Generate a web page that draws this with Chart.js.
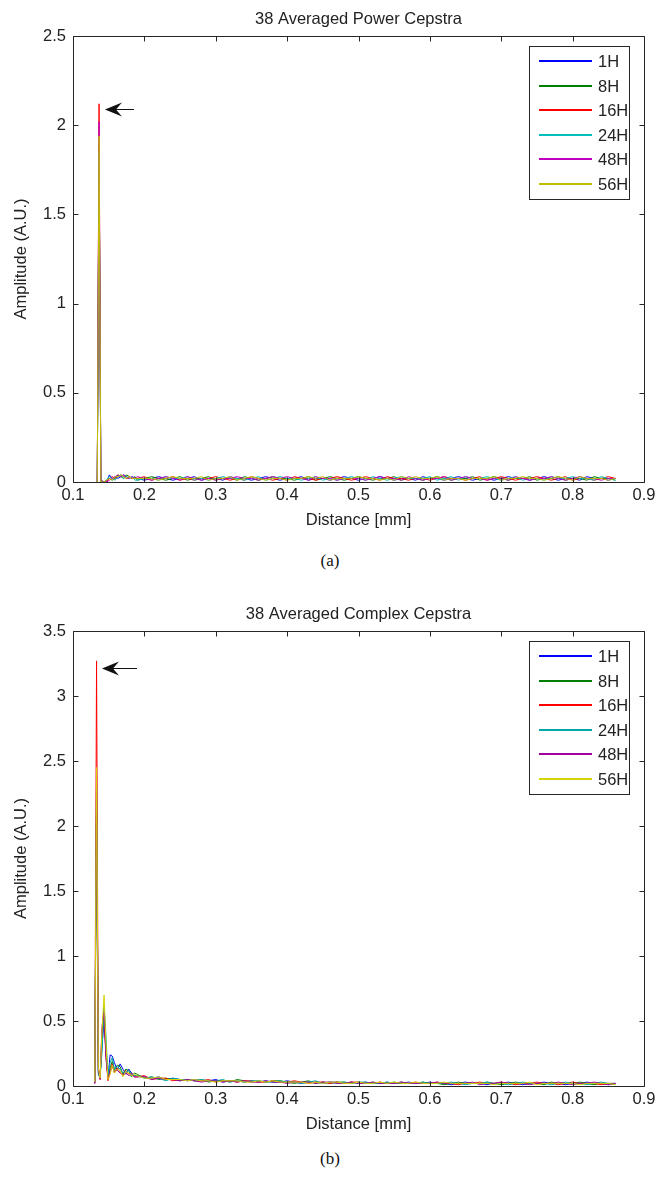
<!DOCTYPE html>
<html>
<head>
<meta charset="utf-8">
<script src="https://cdn.jsdelivr.net/npm/chart.js@4.4.1/dist/chart.umd.min.js"></script>
<style>
  body { margin: 0; background: #fff; width: 670px; height: 1180px; position: relative; overflow: hidden; }
  .box { position: absolute; left: 0; width: 670px; }
  .cap { position: absolute; left: -5px; width: 670px; text-align: center; font-family: "Liberation Serif", serif; font-size: 17px; color: #111; }
</style>
</head>
<body>
<div class="box" style="top:0;height:540px"><canvas id="ch1"></canvas></div>
<div class="cap" style="top:551px">(a)</div>
<div class="box" style="top:595px;height:549px"><canvas id="ch2"></canvas></div>
<div class="cap" style="top:1149px">(b)</div>
<script>
const FONT = '"Liberation Sans", Arial, sans-serif';
const FSIZE = 16.5;

const names = ["1H", "8H", "16H", "24H", "48H", "56H"];
const colorsTop = ["#0000ff", "#008000", "#ff0000", "#00bfbf", "#bf00bf", "#bfbf00"];
const colorsBottom = ["#0000ff", "#008000", "#ff0000", "#00a8a8", "#a000a0", "#d4d400"];

// shared tail of the distance axis [mm]
const tailX = [
  0.19,0.20,0.21,0.22,0.23,0.24,0.25,0.26,0.27,0.28,
  0.29,0.30,0.31,0.32,0.33,0.34,0.35,0.36,0.37,0.38,
  0.39,0.40,0.41,0.42,0.43,0.44,0.45,0.46,0.47,0.48,
  0.49,0.50,0.51,0.52,0.53,0.54,0.55,0.56,0.57,0.58,
  0.59,0.60,0.61,0.62,0.63,0.64,0.65,0.66,0.67,0.68,
  0.69,0.70,0.71,0.72,0.73,0.74,0.75,0.76,0.77,0.78,
  0.79,0.80,0.81,0.82,0.83,0.84,0.85,0.86
];

// (a) power cepstra
const powerX = [0.134,0.1365,0.139,0.143,0.147,0.151,0.155,0.159,0.163,0.167,0.171,0.175,0.179,0.183,0.187, ...tailX];

const power1H = [0.00,1.90,0.01,0.00,0.00,0.04,0.02,0.03,0.02,0.03,0.04,0.03,0.02,0.03,0.02,
  0.02,0.01,0.02,0.03,0.02,0.01,0.02,0.02,0.03,0.01,
  0.02,0.02,0.01,0.03,0.02,0.02,0.01,0.02,0.03,0.02,
  0.01,0.02,0.02,0.03,0.01,0.02,0.02,0.01,0.02,0.03,
  0.02,0.01,0.02,0.02,0.03,0.02,0.01,0.02,0.02,0.01,
  0.03,0.02,0.02,0.01,0.02,0.03,0.02,0.01,0.02,0.02,
  0.01,0.02,0.03,0.02,0.02,0.01,0.02,0.03,0.02,0.01,
  0.02,0.02,0.01,0.03,0.02,0.02,0.01,0.02];
const power8H = [0.00,1.88,0.00,0.00,0.01,0.02,0.01,0.02,0.04,0.03,0.02,0.04,0.03,0.02,0.03,
  0.01,0.02,0.03,0.02,0.01,0.02,0.03,0.01,0.02,0.02,
  0.03,0.01,0.02,0.02,0.01,0.03,0.02,0.01,0.02,0.03,
  0.02,0.02,0.01,0.02,0.03,0.01,0.02,0.03,0.02,0.01,
  0.02,0.03,0.02,0.01,0.02,0.02,0.03,0.01,0.02,0.02,
  0.01,0.02,0.03,0.02,0.01,0.02,0.02,0.03,0.01,0.02,
  0.03,0.02,0.01,0.02,0.02,0.03,0.01,0.02,0.02,0.03,
  0.01,0.02,0.02,0.01,0.03,0.02,0.02,0.01];
const power16H = [0.00,2.12,0.01,0.00,0.00,0.02,0.03,0.02,0.03,0.04,0.03,0.02,0.03,0.02,0.02,
  0.02,0.03,0.01,0.02,0.02,0.03,0.01,0.02,0.01,0.02,
  0.02,0.03,0.02,0.01,0.02,0.01,0.03,0.02,0.02,0.01,
  0.02,0.01,0.03,0.02,0.02,0.01,0.02,0.02,0.03,0.02,
  0.01,0.02,0.03,0.02,0.01,0.03,0.02,0.02,0.01,0.02,
  0.02,0.01,0.02,0.03,0.02,0.02,0.01,0.02,0.03,0.01,
  0.02,0.03,0.02,0.01,0.02,0.02,0.03,0.02,0.01,0.02,
  0.03,0.01,0.02,0.02,0.01,0.02,0.03,0.02];
const power24H = [0.00,1.85,0.00,0.00,0.01,0.03,0.02,0.01,0.03,0.04,0.02,0.03,0.02,0.03,0.01,
  0.01,0.02,0.02,0.01,0.03,0.02,0.02,0.03,0.01,0.02,
  0.01,0.02,0.03,0.02,0.02,0.01,0.02,0.03,0.01,0.02,
  0.03,0.02,0.02,0.01,0.02,0.03,0.01,0.02,0.01,0.02,
  0.03,0.02,0.01,0.03,0.02,0.01,0.02,0.03,0.02,0.02,
  0.02,0.03,0.01,0.02,0.03,0.01,0.03,0.02,0.02,0.03,
  0.02,0.01,0.02,0.03,0.01,0.02,0.02,0.01,0.03,0.02,
  0.02,0.03,0.02,0.02,0.01,0.03,0.02,0.01];
const power48H = [0.00,2.02,0.01,0.00,0.00,0.01,0.02,0.03,0.04,0.03,0.04,0.02,0.02,0.03,0.02,
  0.03,0.02,0.01,0.02,0.03,0.02,0.01,0.03,0.02,0.01,
  0.02,0.01,0.02,0.02,0.03,0.02,0.02,0.01,0.02,0.03,
  0.02,0.03,0.02,0.02,0.01,0.03,0.02,0.02,0.01,0.02,
  0.02,0.02,0.01,0.02,0.03,0.02,0.02,0.01,0.03,0.02,
  0.01,0.02,0.02,0.03,0.01,0.02,0.03,0.02,0.02,0.01,
  0.02,0.02,0.01,0.03,0.02,0.01,0.02,0.02,0.03,0.02,
  0.01,0.02,0.03,0.02,0.02,0.01,0.02,0.02];
const power56H = [0.00,1.94,0.00,0.00,0.01,0.02,0.01,0.03,0.03,0.04,0.03,0.02,0.03,0.02,0.02,
  0.02,0.02,0.02,0.01,0.02,0.03,0.02,0.02,0.02,0.03,
  0.01,0.02,0.02,0.03,0.01,0.02,0.03,0.02,0.01,0.02,
  0.02,0.01,0.02,0.02,0.03,0.02,0.03,0.01,0.02,0.02,
  0.02,0.03,0.02,0.02,0.01,0.02,0.01,0.03,0.02,0.03,
  0.02,0.02,0.03,0.01,0.02,0.02,0.01,0.02,0.02,0.02,
  0.03,0.01,0.02,0.02,0.03,0.02,0.02,0.01,0.02,0.03,
  0.02,0.01,0.03,0.02,0.02,0.02,0.01,0.02];

// (b) complex cepstra
const complexX = [0.1305,0.133,0.1355,0.138,0.1405,0.1435,0.146,0.149,0.152,0.155,0.158,0.162,0.166,0.170,0.174,0.178,0.182,0.186, ...tailX];

const complex1H = [0.02,2.40,0.10,0.08,0.30,0.50,0.28,0.06,0.24,0.23,0.18,0.12,0.17,0.13,0.09,0.13,0.10,0.08,
  0.08,0.07,0.06,0.07,0.05,0.06,0.05,0.04,0.05,0.04,
  0.04,0.05,0.03,0.04,0.04,0.03,0.04,0.03,0.04,0.03,
  0.03,0.04,0.03,0.02,0.03,0.03,0.02,0.03,0.03,0.02,
  0.03,0.02,0.03,0.02,0.02,0.03,0.02,0.02,0.03,0.02,
  0.02,0.03,0.02,0.02,0.01,0.02,0.03,0.02,0.02,0.01,
  0.02,0.02,0.03,0.02,0.01,0.02,0.02,0.03,0.02,0.02,
  0.01,0.02,0.02,0.03,0.02,0.02,0.01,0.02];
const complex8H = [0.03,2.20,0.12,0.06,0.35,0.55,0.30,0.05,0.14,0.19,0.12,0.16,0.15,0.09,0.13,0.12,0.07,0.10,
  0.09,0.06,0.07,0.05,0.06,0.05,0.04,0.05,0.04,0.05,
  0.03,0.04,0.04,0.03,0.05,0.04,0.03,0.04,0.03,0.04,
  0.04,0.03,0.02,0.03,0.04,0.02,0.03,0.02,0.03,0.03,
  0.02,0.03,0.02,0.03,0.02,0.02,0.03,0.02,0.02,0.02,
  0.03,0.02,0.02,0.01,0.02,0.03,0.02,0.02,0.02,0.03,
  0.02,0.01,0.02,0.03,0.02,0.02,0.02,0.01,0.03,0.02,
  0.02,0.02,0.03,0.02,0.01,0.02,0.02,0.01];
const complex16H = [0.02,3.27,0.15,0.05,0.40,0.60,0.25,0.04,0.10,0.17,0.10,0.14,0.11,0.08,0.12,0.09,0.10,0.07,
  0.07,0.08,0.05,0.06,0.06,0.04,0.05,0.05,0.04,0.04,
  0.05,0.03,0.04,0.04,0.03,0.04,0.04,0.03,0.03,0.04,
  0.03,0.03,0.04,0.03,0.02,0.03,0.03,0.02,0.03,0.02,
  0.03,0.03,0.02,0.02,0.03,0.02,0.02,0.03,0.02,0.03,
  0.02,0.02,0.03,0.02,0.02,0.01,0.02,0.02,0.03,0.02,
  0.02,0.03,0.02,0.01,0.02,0.02,0.03,0.02,0.02,0.01,
  0.02,0.03,0.02,0.02,0.02,0.01,0.02,0.02];
const complex24H = [0.03,2.30,0.08,0.07,0.25,0.63,0.40,0.08,0.18,0.22,0.13,0.15,0.13,0.10,0.11,0.12,0.09,0.08,
  0.08,0.06,0.07,0.06,0.04,0.06,0.05,0.05,0.04,0.05,
  0.04,0.04,0.05,0.03,0.04,0.03,0.04,0.04,0.03,0.03,
  0.04,0.03,0.03,0.02,0.03,0.04,0.02,0.03,0.02,0.03,
  0.02,0.03,0.03,0.02,0.02,0.03,0.02,0.03,0.02,0.02,
  0.03,0.02,0.02,0.02,0.03,0.02,0.01,0.02,0.02,0.03,
  0.02,0.02,0.01,0.02,0.03,0.02,0.02,0.02,0.01,0.02,
  0.03,0.02,0.02,0.01,0.02,0.03,0.02,0.02];
const complex48H = [0.02,2.10,0.12,0.05,0.45,0.57,0.22,0.06,0.12,0.15,0.11,0.12,0.10,0.09,0.10,0.08,0.09,0.07,
  0.07,0.07,0.05,0.06,0.05,0.05,0.04,0.05,0.04,0.03,
  0.04,0.04,0.03,0.04,0.03,0.04,0.03,0.03,0.04,0.03,
  0.03,0.02,0.03,0.03,0.03,0.02,0.03,0.03,0.02,0.02,
  0.03,0.02,0.02,0.03,0.02,0.02,0.02,0.03,0.02,0.02,
  0.02,0.02,0.03,0.02,0.02,0.02,0.02,0.03,0.01,0.02,
  0.02,0.03,0.02,0.02,0.02,0.01,0.02,0.02,0.02,0.03,
  0.02,0.01,0.02,0.02,0.03,0.02,0.01,0.02];
const complex56H = [0.03,2.45,0.14,0.06,0.42,0.70,0.35,0.05,0.09,0.16,0.10,0.13,0.12,0.07,0.11,0.10,0.08,0.09,
  0.08,0.06,0.06,0.07,0.05,0.05,0.05,0.04,0.05,0.04,
  0.04,0.03,0.04,0.04,0.04,0.03,0.03,0.04,0.03,0.04,
  0.03,0.03,0.03,0.03,0.02,0.03,0.02,0.03,0.03,0.02,
  0.02,0.03,0.02,0.02,0.03,0.02,0.03,0.02,0.02,0.03,
  0.02,0.02,0.02,0.03,0.02,0.02,0.02,0.02,0.02,0.02,
  0.01,0.02,0.02,0.02,0.02,0.03,0.01,0.02,0.02,0.02,
  0.02,0.02,0.01,0.02,0.02,0.02,0.02,0.01];

const xTicks = [0.1, 0.2, 0.3, 0.4, 0.5, 0.6, 0.7, 0.8, 0.9];

// box round the plot with inward ticks on all four sides
const axisBox = {
  id: 'axisBox',
  afterDatasetsDraw(chart) {
    const ctx = chart.ctx;
    const a = chart.chartArea;
    const l = Math.round(a.left) + 0.5, r = Math.round(a.right) + 0.5;
    const t = Math.round(a.top) + 0.5, b = Math.round(a.bottom) + 0.5;
    const tl = 5;
    ctx.save();
    ctx.strokeStyle = '#262626';
    ctx.lineWidth = 1;
    ctx.beginPath();
    ctx.rect(l, t, r - l, b - t);
    chart.scales.x.ticks.forEach(function (tk) {
      const px = Math.round(chart.scales.x.getPixelForValue(tk.value)) + 0.5;
      ctx.moveTo(px, b); ctx.lineTo(px, b - tl);
      ctx.moveTo(px, t); ctx.lineTo(px, t + tl);
    });
    chart.scales.y.ticks.forEach(function (tk) {
      const py = Math.round(chart.scales.y.getPixelForValue(tk.value)) + 0.5;
      ctx.moveTo(l, py); ctx.lineTo(l + tl, py);
      ctx.moveTo(r, py); ctx.lineTo(r - tl, py);
    });
    ctx.stroke();
    ctx.restore();
  }
};

// arrow pointing at the peak
const peakArrow = {
  id: 'peakArrow',
  afterDatasetsDraw(chart, args, opts) {
    const ctx = chart.ctx;
    const tx = chart.scales.x.getPixelForValue(opts.tipX);
    const ex = chart.scales.x.getPixelForValue(opts.tailX);
    const y = Math.round(chart.scales.y.getPixelForValue(opts.y)) + 0.5;
    ctx.save();
    ctx.strokeStyle = '#111';
    ctx.fillStyle = '#111';
    ctx.lineWidth = 1;
    ctx.beginPath();
    ctx.moveTo(tx + 8, y); ctx.lineTo(ex, y);
    ctx.stroke();
    ctx.beginPath();
    ctx.moveTo(tx, y);
    ctx.lineTo(tx + 17, y - 7);
    ctx.lineTo(tx + 11, y);
    ctx.lineTo(tx + 17, y + 7);
    ctx.closePath();
    ctx.fill();
    ctx.restore();
  }
};

// matlab-like legend box in the upper right corner
const legendBox = {
  id: 'legendBox',
  afterDraw(chart) {
    const ctx = chart.ctx;
    const a = chart.chartArea;
    const w = 100, h = 153, rowH = 24.5;
    const x0 = Math.round(a.right) - 15 - w, y0 = Math.round(a.top) + 10;
    ctx.save();
    ctx.fillStyle = '#fff';
    ctx.fillRect(x0, y0, w, h);
    ctx.strokeStyle = '#262626';
    ctx.lineWidth = 1;
    ctx.strokeRect(x0 + 0.5, y0 + 0.5, w, h);
    ctx.font = FSIZE + 'px ' + FONT;
    ctx.textBaseline = 'middle';
    chart.data.datasets.forEach(function (ds, i) {
      const y = Math.round(y0 + 15 + i * rowH);
      ctx.strokeStyle = ds.borderColor;
      ctx.lineWidth = 2;
      ctx.beginPath();
      ctx.moveTo(x0 + 10, y);
      ctx.lineTo(x0 + 63, y);
      ctx.stroke();
      ctx.fillStyle = '#222';
      ctx.fillText(ds.label, x0 + 69, y + 1);
    });
    ctx.restore();
  }
};

function tickText(v) {
  return String(Number(Number(v).toFixed(1)));
}

function makeChart(id, title, xs, series, colors, yMax, arrow) {
  const datasets = series.map(function (s, i) {
    return {
      label: names[i],
      data: xs.map(function (x, j) { return { x: x, y: s[j] }; }),
      borderColor: colors[i],
      borderWidth: 1,
      pointRadius: 0,
      fill: false,
      tension: 0,
      order: series.length - i
    };
  });

  return new Chart(document.getElementById(id), {
    type: 'line',
    data: { datasets: datasets },
    options: {
      responsive: true,
      maintainAspectRatio: false,
      animation: false,
      events: [],
      layout: { padding: { left: 0, right: 26, top: 0, bottom: 0 } },
      plugins: {
        legend: { display: false },
        tooltip: { enabled: false },
        title: {
          display: true,
          text: title,
          fullSize: false,
          color: '#222',
          font: { family: FONT, size: FSIZE, weight: 'normal' },
          padding: { top: 10, bottom: 6.2 }
        },
        peakArrow: arrow
      },
      scales: {
        x: {
          type: 'linear',
          min: 0.1,
          max: 0.9,
          afterFit: function (s) { s.height = 58; },
          afterBuildTicks: function (s) { s.ticks = xTicks.map(function (v) { return { value: v }; }); },
          ticks: {
            color: '#222',
            padding: 4,
            maxRotation: 0,
            autoSkip: false,
            font: { family: FONT, size: FSIZE },
            callback: function (v) { return Number(v).toFixed(1); }
          },
          grid: { display: false, drawTicks: false },
          border: { display: false },
          title: {
            display: true,
            text: 'Distance [mm]',
            color: '#222',
            font: { family: FONT, size: FSIZE },
            padding: { top: 0, bottom: 10 }
          }
        },
        y: {
          min: 0,
          max: yMax,
          afterFit: function (s) { s.width = 73; },
          ticks: {
            stepSize: 0.5,
            color: '#222',
            padding: 7,
            font: { family: FONT, size: FSIZE },
            callback: tickText
          },
          grid: { display: false, drawTicks: false },
          border: { display: false },
          title: {
            display: true,
            text: 'Amplitude (A.U.)',
            color: '#222',
            font: { family: FONT, size: FSIZE },
            padding: { top: 12, bottom: 0 }
          }
        }
      }
    },
    plugins: [axisBox, peakArrow, legendBox]
  });
}

makeChart('ch1', '38 Averaged Power Cepstra', powerX,
  [power1H, power8H, power16H, power24H, power48H, power56H],
  colorsTop, 2.5, { tipX: 0.1448, tailX: 0.1855, y: 2.09 });

makeChart('ch2', '38 Averaged Complex Cepstra', complexX,
  [complex1H, complex8H, complex16H, complex24H, complex48H, complex56H],
  colorsBottom, 3.5, { tipX: 0.1406, tailX: 0.1897, y: 3.215 });
</script>
</body>
</html>
